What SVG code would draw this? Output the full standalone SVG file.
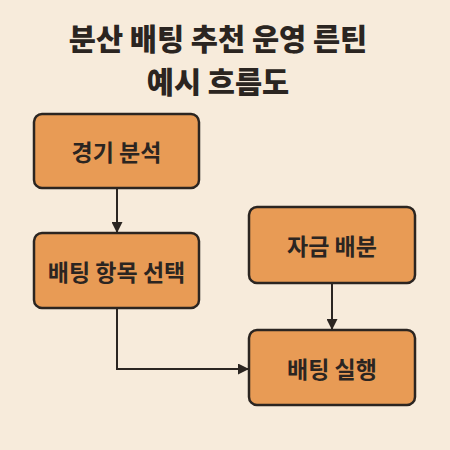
<svg xmlns="http://www.w3.org/2000/svg" width="450" height="450" viewBox="0 0 450 450">
<defs>
<marker id="ah" markerWidth="11" markerHeight="11" refX="10" refY="5.5" orient="auto" markerUnits="userSpaceOnUse" viewBox="0 0 11 11">
<path d="M0,0 L11,5.5 L0,11 Z" fill="#2b2521"/>
</marker>
<style>
.box{fill:#E89B55;stroke:#2b2521;stroke-width:2.5}
.lbl{font-family:"Noto Sans CJK KR","Noto Sans",sans-serif;font-weight:700;font-size:23px;fill:#2b2521;text-anchor:middle;dominant-baseline:central}
.title{font-family:"Noto Sans CJK KR","Noto Sans",sans-serif;font-weight:900;font-size:29.5px;fill:#2b2521;text-anchor:middle}
.edge{fill:none;stroke:#2b2521;stroke-width:2}
</style>
</defs>
<rect width="450" height="450" fill="#F7EBDB"/>
<g id="title">
<text class="title" x="218" y="50">분산 배팅 추천 운영 른틴</text>
<text class="title" x="218" y="93">예시 흐름도</text>
</g>
<g id="n1"><rect class="box" x="34" y="114" width="165" height="74" rx="8"/><text class="lbl" x="116.5" y="151">경기 분석</text></g>
<g id="n2"><rect class="box" x="34" y="233" width="165" height="75" rx="8"/><text class="lbl" x="116.5" y="270.5">배팅 항목 선택</text></g>
<g id="n3"><rect class="box" x="249" y="207" width="166" height="76" rx="8"/><text class="lbl" x="332" y="245">자금 배분</text></g>
<g id="n4"><rect class="box" x="249" y="330" width="166" height="75" rx="8"/><text class="lbl" x="332" y="367.5">배팅 실행</text></g>
<g id="edges">
<path class="edge" d="M117,188 V232" marker-end="url(#ah)"/>
<path class="edge" d="M117,308 V369 H248" marker-end="url(#ah)"/>
<path class="edge" d="M332,283 V329" marker-end="url(#ah)"/>
</g>
</svg>
